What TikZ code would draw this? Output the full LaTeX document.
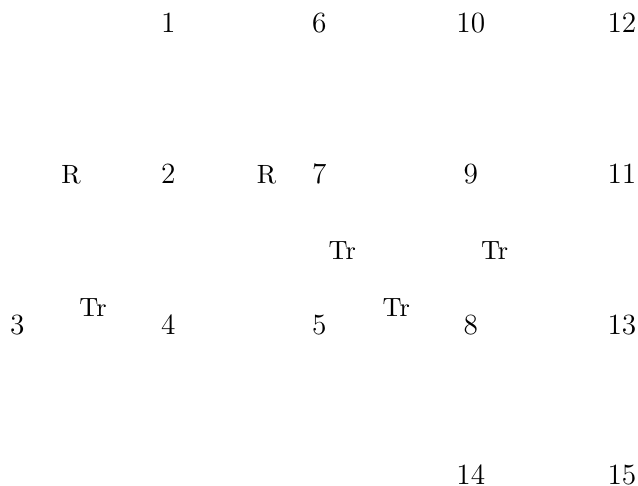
\documentclass[tikz,border=0pt]{standalone}
\begin{document}
\begin{tikzpicture}[x=0.375pt,y=-0.375pt,
  obj/.style={anchor=base,inner sep=0pt,font=\fontsize{11}{13}\selectfont},
  lbl/.style={anchor=base,inner sep=0pt,font=\fontsize{9.9}{12}\selectfont}]
\useasboundingbox (0,0) rectangle (638,486);
% row 1
\node[obj] (n1) at (168.3,32.3) {1};
\node[obj] (n6) at (319.3,32.3) {6};
\node[obj] (n10) at (470.8,32.3) {10};
\node[obj] (n12) at (622,32.3) {12};
% row 2
\node[obj] (n2) at (168.3,183.4) {2};
\node[obj] (n7) at (319.3,183.4) {7};
\node[obj] (n9) at (470.8,183.4) {9};
\node[obj] (n11) at (622,183.4) {11};
% row 3
\node[obj] (n3) at (17.3,334.6) {3};
\node[obj] (n4) at (168.3,334.6) {4};
\node[obj] (n5) at (319.3,334.6) {5};
\node[obj] (n8) at (470.8,334.6) {8};
\node[obj] (n13) at (622,334.6) {13};
% row 4
\node[obj] (n14) at (470.8,484) {14};
\node[obj] (n15) at (622,484) {15};
% labels
\node[lbl] (r1) at (71,183.4) {R};
\node[lbl] (r2) at (266.7,183.4) {R};
\node[lbl] (t1) at (93,316.3) {Tr};
\node[lbl] (t2) at (342.3,259) {Tr};
\node[lbl] (t3) at (494.7,259) {Tr};
\node[lbl] (t4) at (396.3,316.3) {Tr};
\end{tikzpicture}
\end{document}
